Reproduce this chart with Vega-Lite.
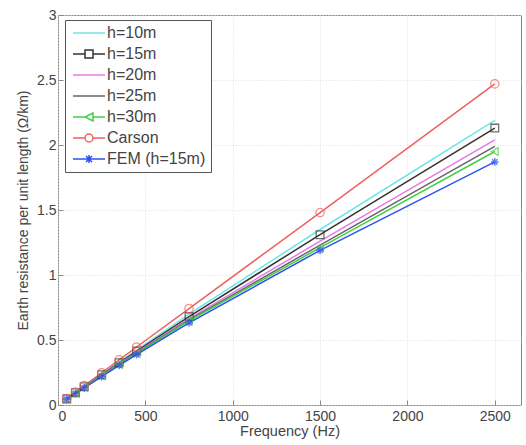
{
  "$schema": "https://vega.github.io/schema/vega-lite/v6.json",
  "autosize": {"type": "none"},
  "width": 463,
  "height": 390,
  "padding": {"left": 58, "top": 15, "right": 5, "bottom": 40},
  "background": "white",
  "config": {
    "font": "Liberation Sans",
    "view": {"stroke": "#888888", "strokeWidth": 1}
  },
  "data": {"values": [
    {"f": 50, "s": "h=10m", "r": 0.048}, {"f": 100, "s": "h=10m", "r": 0.095}, {"f": 150, "s": "h=10m", "r": 0.142}, {"f": 250, "s": "h=10m", "r": 0.236}, {"f": 350, "s": "h=10m", "r": 0.33}, {"f": 450, "s": "h=10m", "r": 0.422}, {"f": 750, "s": "h=10m", "r": 0.70}, {"f": 1500, "s": "h=10m", "r": 1.35}, {"f": 2500, "s": "h=10m", "r": 2.19},
    {"f": 50, "s": "h=15m", "r": 0.047}, {"f": 100, "s": "h=15m", "r": 0.094}, {"f": 150, "s": "h=15m", "r": 0.140}, {"f": 250, "s": "h=15m", "r": 0.232}, {"f": 350, "s": "h=15m", "r": 0.325}, {"f": 450, "s": "h=15m", "r": 0.415}, {"f": 750, "s": "h=15m", "r": 0.68}, {"f": 1500, "s": "h=15m", "r": 1.31}, {"f": 2500, "s": "h=15m", "r": 2.13},
    {"f": 50, "s": "h=20m", "r": 0.046}, {"f": 100, "s": "h=20m", "r": 0.092}, {"f": 150, "s": "h=20m", "r": 0.137}, {"f": 250, "s": "h=20m", "r": 0.228}, {"f": 350, "s": "h=20m", "r": 0.318}, {"f": 450, "s": "h=20m", "r": 0.405}, {"f": 750, "s": "h=20m", "r": 0.665}, {"f": 1500, "s": "h=20m", "r": 1.26}, {"f": 2500, "s": "h=20m", "r": 2.04},
    {"f": 50, "s": "h=25m", "r": 0.046}, {"f": 100, "s": "h=25m", "r": 0.091}, {"f": 150, "s": "h=25m", "r": 0.136}, {"f": 250, "s": "h=25m", "r": 0.226}, {"f": 350, "s": "h=25m", "r": 0.314}, {"f": 450, "s": "h=25m", "r": 0.40}, {"f": 750, "s": "h=25m", "r": 0.655}, {"f": 1500, "s": "h=25m", "r": 1.23}, {"f": 2500, "s": "h=25m", "r": 1.99},
    {"f": 50, "s": "h=30m", "r": 0.045}, {"f": 100, "s": "h=30m", "r": 0.090}, {"f": 150, "s": "h=30m", "r": 0.135}, {"f": 250, "s": "h=30m", "r": 0.224}, {"f": 350, "s": "h=30m", "r": 0.311}, {"f": 450, "s": "h=30m", "r": 0.396}, {"f": 750, "s": "h=30m", "r": 0.648}, {"f": 1500, "s": "h=30m", "r": 1.21}, {"f": 2500, "s": "h=30m", "r": 1.95},
    {"f": 50, "s": "Carson", "r": 0.05}, {"f": 100, "s": "Carson", "r": 0.10}, {"f": 150, "s": "Carson", "r": 0.15}, {"f": 250, "s": "Carson", "r": 0.248}, {"f": 350, "s": "Carson", "r": 0.347}, {"f": 450, "s": "Carson", "r": 0.446}, {"f": 750, "s": "Carson", "r": 0.742}, {"f": 1500, "s": "Carson", "r": 1.48}, {"f": 2500, "s": "Carson", "r": 2.47},
    {"f": 50, "s": "FEM (h=15m)", "r": 0.044}, {"f": 100, "s": "FEM (h=15m)", "r": 0.088}, {"f": 150, "s": "FEM (h=15m)", "r": 0.132}, {"f": 250, "s": "FEM (h=15m)", "r": 0.219}, {"f": 350, "s": "FEM (h=15m)", "r": 0.305}, {"f": 450, "s": "FEM (h=15m)", "r": 0.388}, {"f": 750, "s": "FEM (h=15m)", "r": 0.632}, {"f": 1500, "s": "FEM (h=15m)", "r": 1.19}, {"f": 2500, "s": "FEM (h=15m)", "r": 1.87}
  ]},
  "encoding": {
    "x": {"field": "f", "type": "quantitative", "scale": {"domain": [0, 2650], "nice": false},
      "axis": {"title": "Frequency (Hz)", "format": "d", "values": [0, 500, 1000, 1500, 2000, 2500], "grid": true, "gridColor": "#dddddd", "gridDash": [1, 2], "tickSize": -5, "tickColor": "#888888", "domain": false, "labelFontSize": 14, "labelColor": "#444444", "titleFontSize": 14.5, "titleFontWeight": "normal", "titleColor": "#444444", "titlePadding": 1, "labelPadding": 9}},
    "y": {"field": "r", "type": "quantitative", "scale": {"domain": [0, 3], "nice": false},
      "axis": {"title": "Earth resistance per unit length (Ω/km)", "format": ".1~f", "values": [0, 0.5, 1, 1.5, 2, 2.5, 3], "grid": true, "gridColor": "#dddddd", "gridDash": [1, 2], "tickSize": -5, "tickColor": "#888888", "domain": false, "labelFontSize": 14, "labelColor": "#444444", "titleFontSize": 14, "titleFontWeight": "normal", "titleColor": "#444444", "labelPadding": 7, "titlePadding": 6}},
    "color": {"field": "s", "type": "nominal",
      "scale": {"domain": ["h=10m", "h=15m", "h=20m", "h=25m", "h=30m", "Carson", "FEM (h=15m)"],
        "range": ["#6ee6e6", "#333333", "#e878e8", "#666666", "#44d044", "#f06060", "#3050f0"]},
      "legend": {"orient": "none", "legendX": 7, "legendY": 5, "title": null, "strokeColor": "#555555", "fillColor": "white", "padding": 5, "labelFontSize": 16, "labelColor": "#444444", "symbolSize": 100, "symbolStrokeWidth": 1.5, "rowPadding": 5, "labelOffset": 21,
        "encode": {"symbols": {"update": {
          "fill": {"value": "transparent"},
          "shape": {"signal": "datum.value === 'h=15m' ? 'M-1,0H1.4M3,0H5.4M1.4,-0.8H3V0.8H1.4Z' : datum.value === 'h=30m' ? 'M-1,0H1.4M3,0H5.4M1.4,0L3,-0.8L3,0.8Z' : datum.value === 'Carson' ? 'M-1,0H1.4M3,0H5.4M1.4,0A0.8,0.8 0 1,0 3,0A0.8,0.8 0 1,0 1.4,0' : datum.value === 'FEM (h=15m)' ? 'M-1,0H5.4M2.2,-0.8V0.8M1.6,-0.6L2.8,0.6M1.6,0.6L2.8,-0.6' : 'M-1,0H5.4'"}
        }}}}}
  },
  "layer": [
    {"mark": {"type": "line", "strokeWidth": 1.5}},
    {"transform": [{"filter": {"field": "s", "equal": "h=15m"}}],
     "mark": {"type": "point", "shape": "square", "size": 60, "strokeWidth": 1.3, "filled": false}},
    {"transform": [{"filter": {"field": "s", "equal": "h=30m"}}],
     "mark": {"type": "point", "shape": "triangle-left", "size": 60, "strokeWidth": 1.3, "filled": false}},
    {"transform": [{"filter": {"field": "s", "equal": "Carson"}}],
     "mark": {"type": "point", "shape": "circle", "size": 70, "strokeWidth": 1.3, "filled": false}},
    {"transform": [{"filter": {"field": "s", "equal": "FEM (h=15m)"}}],
     "mark": {"type": "point", "shape": "M-1,0L1,0M0,-1L0,1M-0.7,-0.7L0.7,0.7M-0.7,0.7L0.7,-0.7", "size": 60, "strokeWidth": 1.5, "filled": false}}
  ]
}
